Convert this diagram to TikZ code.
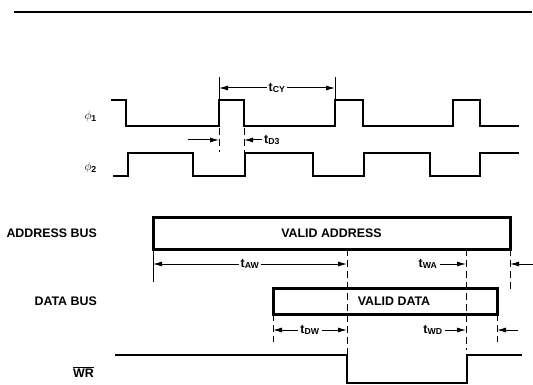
\documentclass[tikz,border=0pt]{standalone}
\usepackage{fontspec}
\setmainfont{Liberation Sans}
\usetikzlibrary{arrows.meta}

\tikzset{
    wave/.style={line width=2.8pt, line join=miter},
    bus/.style={draw, line width=3pt, inner sep=0pt, outer sep=0pt},
    tick/.style={line width=1pt},
    guide/.style={line width=1pt, dash pattern=on 7pt off 4pt},
    dim/.style={line width=1pt, >={Latex[length=9pt,width=5pt]}},
    tlbl/.style={fill=white, inner sep=2pt},
    sig/.style={anchor=east, inner sep=0pt}
}

\begin{document}
\begin{tikzpicture}[x=1pt, y=-1pt, font=\bfseries\fontsize{12.4}{14}\selectfont]
                \useasboundingbox (0,0) rectangle (533,385);
                \def \hi {100}
                \def \lo {126}
                \draw[line width=2.2pt] (14,12) -- (532,12);
                \node[sig] (phi1) at (97,117) {$\phi$\textsubscript{1}};
                \node[sig] (phi2) at (97,168) {$\phi$\textsubscript{2}};
                \draw[wave] (111,\hi) -| (126,\lo)
                    \foreach \r/\f in {219/244,335/363,453/480} { -| (\r,\hi) -| (\f,\lo) } -- (519,\lo);
                \draw[wave] (113,176) -| (128,153)
                    \foreach \f/\r in {193/245,313/364,430/480} { -| (\f,176) -| (\r,153) } -- (519,153);
                \draw[tick] (219,77) -- (219,\hi) (335,77) -- (335,\hi);
                \coordinate (cy1) at (219,88);
                \coordinate (cy2) at (335,88);
                \draw[dim,<->] (cy1) -- node[tlbl] (tcy) {t\textsubscript{CY}} (cy2);
                \draw[guide] (219,128) -- (219,152) (244,128) -- (244,152);
                \coordinate (d3a) at (188,140);
                \coordinate (d3b) at (219,140);
                \coordinate (d3c) at (244,140);
                \node[tlbl, anchor=west] (td3) at (262,140) {t\textsubscript{D3}};
                \draw[dim,->] (d3a) -- (d3b);
                \draw[dim,->] (td3.west) -- (d3c);
                % address bus
                \node[sig] (abus) at (97,233) {ADDRESS BUS};
                \node[bus, minimum width=357pt, minimum height=32pt] (addr) at (331.5,233) {VALID ADDRESS};
                \draw[tick] (addr.south west) -- (153,282);
                \draw[guide] (347,249) -- (347,355);
                \draw[guide] (466,249) -- (466,350);
                \draw[guide] (addr.south east) -- (510,289);
                \coordinate (aw1) at (153,264);
                \coordinate (aw2) at (347,264);
                \draw[dim,<->] (aw1) -- node[tlbl] (taw) {t\textsubscript{AW}} (aw2);
                \node[tlbl] (twa) at (428,264) {t\textsubscript{WA}};
                \coordinate (wa) at (466,264);
                \draw[dim,->] (twa) -- (wa);
                \coordinate (ar1) at (533,264);
                \coordinate (ar2) at (510,264);
                \draw[dim,->] (ar1) -- (ar2);
                % data bus
                \node[sig] (dbus) at (97,301) {DATA BUS};
                \node[bus, minimum width=224pt, minimum height=26pt] (data) at (385,301) {};
                \node (vdata) at (394,301) {VALID DATA};
                \draw[guide] (data.south west) -- (273,342);
                \draw[guide] (data.south east) -- (497,342);
                \coordinate (dw1) at (273,330);
                \coordinate (dw2) at (347,330);
                \draw[dim,<->] (dw1) -- node[tlbl] (tdw) {t\textsubscript{DW}} (dw2);
                \node[tlbl] (twd) at (433,330) {t\textsubscript{WD}};
                \coordinate (wd) at (466,330);
                \draw[dim,->] (twd) -- (wd);
                \coordinate (dr1) at (518,330);
                \coordinate (dr2) at (497,330);
                \draw[dim,->] (dr1) -- (dr2);
                % write strobe
                \node[sig] (wr) at (94,372) {$\overline{\mbox{WR}}$};
                \draw[wave] (115,355) -| (347,383) -| (467,355) -- (522,355);
            \end{tikzpicture}
\end{document}
